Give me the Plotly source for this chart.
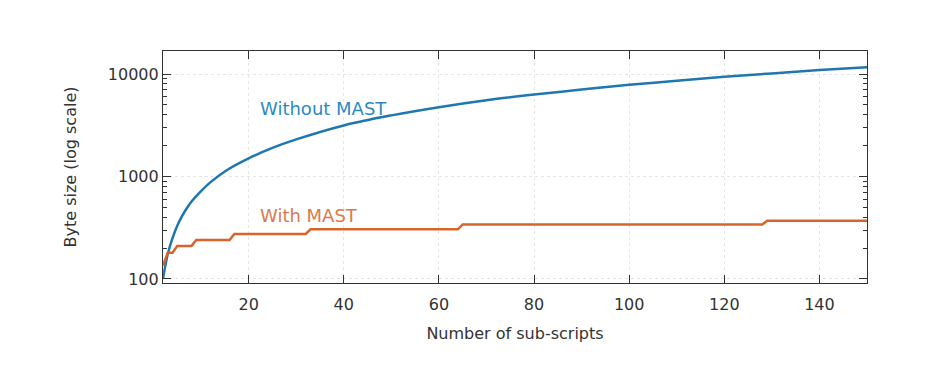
import plotly.graph_objects as go

# Data
n_without = [2, 3, 4, 5, 6, 7, 8, 10, 12, 15, 20, 25, 30, 40, 50, 60, 70, 80, 90, 100, 110, 120, 130, 140, 150]
bytes_without = [100, 175, 250, 330, 410, 490, 570, 720, 880, 1120, 1500, 1900, 2300, 3150, 3950, 4750,
                 5550, 6300, 7050, 7850, 8600, 9400, 10150, 10950, 11650]

n_with = [2, 3, 4, 5, 8, 9, 16, 17, 32, 33, 64, 65, 128, 129, 150]
bytes_with = [135, 180, 180, 210, 210, 240, 240, 275, 275, 305, 305, 340, 340, 370, 370]

x_tickvals = [20, 40, 60, 80, 100, 120, 140]
y_tickvals = [100, 1000, 10000]
y_ticktext = ["100", "1000", "10000"]
y_minor_vals = [200, 300, 400, 500, 600, 700, 800, 900,
                2000, 3000, 4000, 5000, 6000, 7000, 8000, 9000]

BLUE = "#1f77b0"
ORANGE = "#d8642c"
FONT = "DejaVu Sans"

fig = go.Figure()
fig.add_trace(go.Scatter(x=n_without, y=bytes_without, mode="lines", line=dict(color=BLUE, width=2.5, shape="spline"),
                         showlegend=False))
fig.add_trace(go.Scatter(x=n_with, y=bytes_with, mode="lines", line=dict(color=ORANGE, width=2.5),
                         showlegend=False))

fig.add_annotation(x=22, y=3.668, xref="x", yref="y", text="Without MAST", showarrow=False,
                   xanchor="left", yanchor="middle", font=dict(family=FONT, size=18, color="#2e8ac2"))
fig.add_annotation(x=22, y=2.615, xref="x", yref="y", text="With MAST", showarrow=False,
                   xanchor="left", yanchor="middle", font=dict(family=FONT, size=18, color="#db7a4c"))

fig.update_xaxes(range=[2, 150], tickvals=x_tickvals, ticks="inside", ticklen=8, tickcolor="#333",
                 showline=True, linecolor="#333", linewidth=1.2, mirror="ticks", automargin=False,
                 showgrid=True, gridcolor="#e6e6e6", griddash="dot", gridwidth=1, zeroline=False,
                 ticklabelstandoff=7,
                 tickfont=dict(family=FONT, size=16, color="#333"),
                 title=dict(text="Number of sub-scripts", font=dict(family=FONT, size=16, color="#333"), standoff=14))
fig.update_yaxes(type="log", range=[1.96, 4.225], tickvals=y_tickvals, ticktext=y_ticktext,
                 ticks="inside", ticklen=8, tickcolor="#333",
                 minor=dict(tickmode="array", tickvals=y_minor_vals, ticks="inside", ticklen=4,
                            tickcolor="#333", showgrid=False),
                 showline=True, linecolor="#333", linewidth=1.2, mirror="ticks", automargin=False,
                 showgrid=True, gridcolor="#e6e6e6", griddash="dot", gridwidth=1, zeroline=False,
                 tickfont=dict(family=FONT, size=16, color="#333"),
                 title=dict(text="Byte size (log scale)", font=dict(family=FONT, size=16, color="#333"), standoff=27))

fig.update_layout(width=929, height=370, margin=dict(l=155, r=70, t=43, b=95),
                  paper_bgcolor="white", plot_bgcolor="white")

fig.write_html("out.html")
